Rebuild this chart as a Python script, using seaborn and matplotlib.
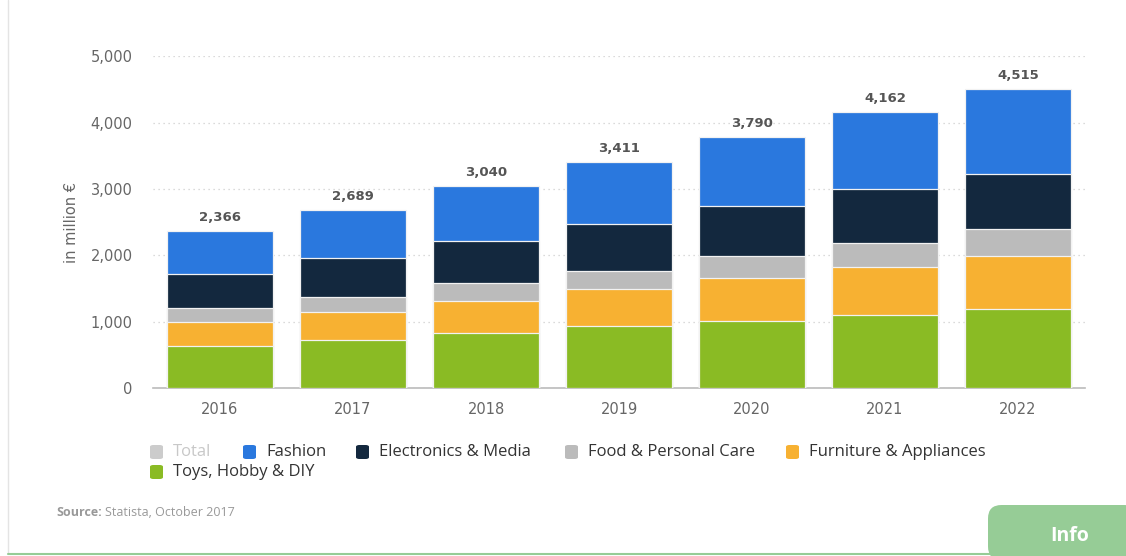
import matplotlib
matplotlib.use("Agg")
import matplotlib.pyplot as plt
from matplotlib.patches import FancyBboxPatch
from matplotlib.lines import Line2D
import numpy as np
import pandas as pd
import seaborn as sns

# Projected e-commerce revenue by segment, in million €
years = ["2016", "2017", "2018", "2019", "2020", "2021", "2022"]
toys_hobby_diy = [640, 730, 830, 940, 1015, 1100, 1185]
furniture_appliances = [350, 410, 480, 555, 650, 730, 810]
food_personal_care = [210, 230, 270, 275, 330, 357, 400]
electronics_media = [520, 585, 630, 710, 750, 810, 830]
fashion = [646, 734, 830, 931, 1045, 1165, 1290]
totals = [2366, 2689, 3040, 3411, 3790, 4162, 4515]

segments = ["Toys, Hobby & DIY", "Furniture & Appliances", "Food & Personal Care",
            "Electronics & Media", "Fashion"]
segment_values = [toys_hobby_diy, furniture_appliances, food_personal_care,
                  electronics_media, fashion]
segment_colors = ["#8ABB24", "#F7B132", "#BBBBBB", "#13283E", "#2A78DE"]

sns.set_theme(style="white")
plt.rcParams["font.family"] = ["DejaVu Sans"]

fig = plt.figure(figsize=(11.26, 5.56), dpi=100)
ax = fig.add_axes([0.1363, 0.3022, 0.8269, 0.5962])

df = pd.DataFrame({"year": years})
cum = np.zeros(len(years))
layers = []
for name, vals in zip(segments, segment_values):
    cum = cum + np.array(vals, dtype=float)
    layers.append((name, cum.copy()))

# Draw cumulative layers from the tallest down so each segment shows on top
for (name, heights), color in reversed(list(zip(layers, segment_colors))):
    df["h"] = heights
    sns.barplot(data=df, x="year", y="h", color=color, width=0.8,
                edgecolor="#F2F2F2", linewidth=0.9, ax=ax, saturation=1,
                zorder=3)

ax.set_ylim(0, 5000)
ax.set_xlim(-0.5, len(years) - 0.5)
ticks = [0, 1000, 2000, 3000, 4000, 5000]
ax.set_yticks(ticks)
ax.set_yticklabels([f"{v:,}" for v in ticks])
ax.yaxis.grid(True, linestyle=(0, (1, 3)), color="#CFCFCF", linewidth=0.9, zorder=0)
ax.set_axisbelow(True)
for side in ["top", "right", "left"]:
    ax.spines[side].set_visible(False)
ax.spines["bottom"].set_color("#BBBBBB")
ax.spines["bottom"].set_linewidth(1.2)
ax.tick_params(axis="both", length=0, colors="#666666", labelsize=10.5)
ax.tick_params(axis="x", pad=10)
ax.tick_params(axis="y", pad=15)
ax.set_xlabel("")
ax.set_ylabel("in million €", color="#666666", fontsize=10.5, labelpad=8)

for i, t in enumerate(totals):
    ax.annotate(f"{t:,}", xy=(i, t), xytext=(0, 5), textcoords="offset points",
                ha="center", va="bottom", fontsize=9.5, fontweight="bold",
                color="#555555", clip_on=False)

# Legend built by hand so it wraps like the original
W, H = 1126.0, 556.0
legend_items = [("Total", "#CCCCCC", "#C8C8C8", 150, 452),
                ("Fashion", segment_colors[4], "#333333", 243, 452),
                ("Electronics & Media", segment_colors[3], "#333333", 356, 452),
                ("Food & Personal Care", segment_colors[2], "#333333", 565, 452),
                ("Furniture & Appliances", segment_colors[1], "#333333", 786, 452),
                ("Toys, Hobby & DIY", segment_colors[0], "#333333", 150, 472)]
for label, color, tcolor, px, py in legend_items:
    patch = FancyBboxPatch((px / W, 1 - (py + 7) / H), 13 / W, 14 / H,
                           boxstyle="round,pad=0,rounding_size=0.003",
                           transform=fig.transFigure, facecolor=color,
                           edgecolor="none")
    fig.patches.append(patch)
    fig.text((px + 23) / W, 1 - py / H, label, ha="left", va="center",
             fontsize=12, color=tcolor, family=["Open Sans", "DejaVu Sans"])

# Source line
fig.text(56 / W, 1 - 513 / H, "Source:", ha="left", va="center", fontsize=9,
         fontweight="bold", color="#999999", family=["Open Sans", "DejaVu Sans"])
fig.text(105 / W, 1 - 513 / H, "Statista, October 2017", ha="left", va="center",
         fontsize=9, color="#999999", family=["Open Sans", "DejaVu Sans"])

# Frame lines on the left and bottom
fig.add_artist(Line2D([8 / W, 8 / W], [1 - 553 / H, 1.0], transform=fig.transFigure,
                      color="#E4E4E4", linewidth=1))
fig.add_artist(Line2D([8 / W, 1.0], [1 - 554 / H, 1 - 554 / H], transform=fig.transFigure,
                      color="#96CC96", linewidth=1.5))

# Info tab
tab = FancyBboxPatch((988 / W, 1 - 560 / H), 150 / W, 55 / H,
                     boxstyle="round,pad=0,rounding_size=0.012",
                     transform=fig.transFigure, facecolor="#96CC96",
                     edgecolor="none", mutation_aspect=W / H)
fig.patches.append(tab)
fig.text(1070 / W, 1 - 536 / H, "Info", ha="center", va="center", fontsize=14,
         fontweight="bold", color="white", family=["Open Sans", "DejaVu Sans"])

fig.savefig("out.png", dpi=100, facecolor="white")
